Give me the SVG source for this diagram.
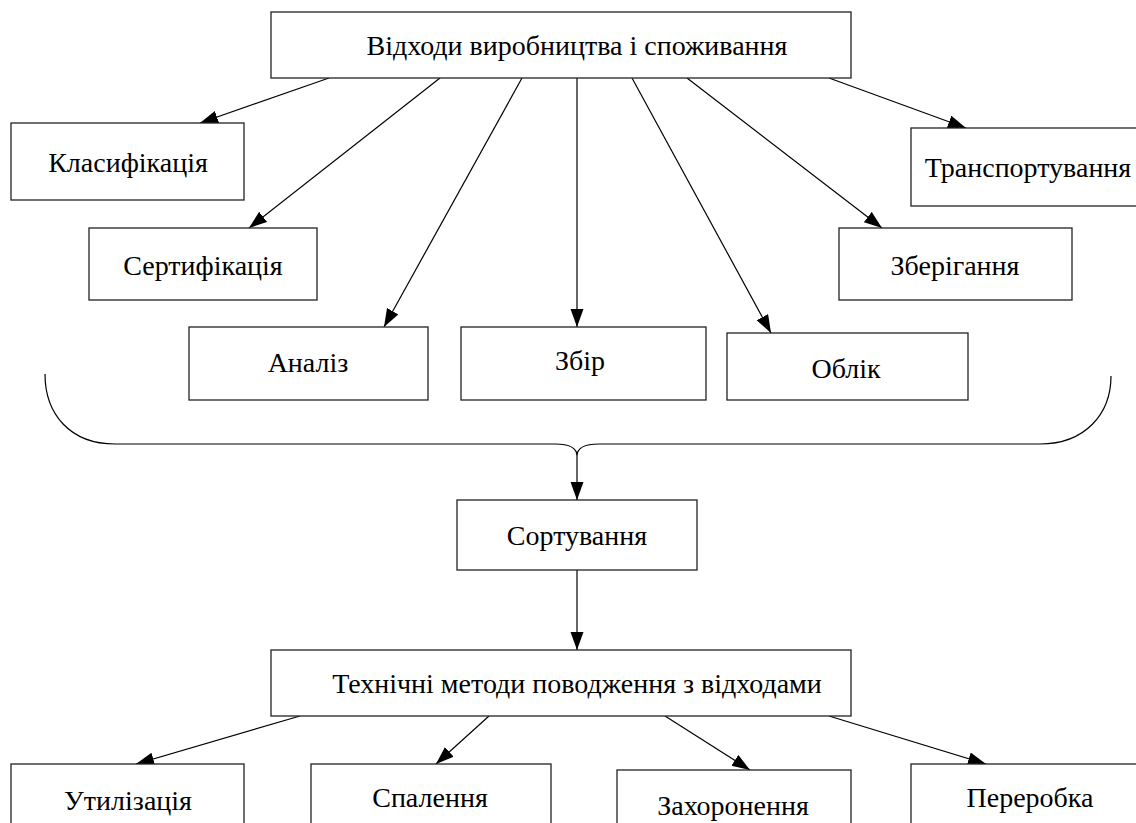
<svg xmlns="http://www.w3.org/2000/svg" width="1136" height="823" viewBox="0 0 1136 823">
<style>
.box{fill:#fff;stroke:#222;stroke-width:1.3}
.lbl{font-family:"Liberation Serif","Times New Roman",serif;font-size:28px;font-weight:normal;fill:#000;text-anchor:middle;dominant-baseline:central}
.ln{stroke:#000;stroke-width:1.2;fill:none}
</style>
<defs>
<marker id="ah" markerUnits="userSpaceOnUse" markerWidth="20" markerHeight="14" refX="18" refY="6.5" orient="auto">
<path d="M0,0 L18,6.5 L0,13 z" fill="#000"/>
</marker>
</defs>
<rect width="1136" height="823" fill="#fff"/>
<g id="connectors">
<line class="ln" x1="329" y1="78" x2="200" y2="123" marker-end="url(#ah)"/>
<line class="ln" x1="440" y1="78" x2="249" y2="228" marker-end="url(#ah)"/>
<line class="ln" x1="522" y1="78" x2="384" y2="327" marker-end="url(#ah)"/>
<line class="ln" x1="577" y1="78" x2="577" y2="327" marker-end="url(#ah)"/>
<line class="ln" x1="632" y1="78" x2="771" y2="333" marker-end="url(#ah)"/>
<line class="ln" x1="687" y1="78" x2="882" y2="228" marker-end="url(#ah)"/>
<line class="ln" x1="829" y1="78" x2="966" y2="128" marker-end="url(#ah)"/>
<path class="ln" d="M45,374 C45,414 70,444 115,444 L555,444 Q577,444 577,456 Q577,444 599,444 L1040,444 C1085,444 1111,414 1111,376"/>
<line class="ln" x1="577" y1="456" x2="577" y2="500" marker-end="url(#ah)"/>
<line class="ln" x1="577" y1="570" x2="577" y2="650" marker-end="url(#ah)"/>
<line class="ln" x1="300" y1="716" x2="136" y2="764" marker-end="url(#ah)"/>
<line class="ln" x1="489" y1="716" x2="436" y2="764" marker-end="url(#ah)"/>
<line class="ln" x1="665" y1="716" x2="750" y2="770" marker-end="url(#ah)"/>
<line class="ln" x1="829" y1="716" x2="986" y2="764" marker-end="url(#ah)"/>
</g>
<g id="n-top"><rect class="box" x="271" y="12" width="580" height="66"/><text class="lbl" x="577" y="45">Відходи виробництва і споживання</text></g>
<g id="n-klas"><rect class="box" x="11" y="123" width="233" height="77"/><text class="lbl" x="128" y="162">Класифікація</text></g>
<g id="n-sert"><rect class="box" x="89" y="228" width="228" height="72"/><text class="lbl" x="203" y="265">Сертифікація</text></g>
<g id="n-anal"><rect class="box" x="189" y="327" width="239" height="73"/><text class="lbl" x="308" y="362">Аналіз</text></g>
<g id="n-zbir"><rect class="box" x="461" y="327" width="245" height="73"/><text class="lbl" x="580" y="360">Збір</text></g>
<g id="n-oblik"><rect class="box" x="727" y="333" width="241" height="67"/><text class="lbl" x="846" y="368">Облік</text></g>
<g id="n-zber"><rect class="box" x="839" y="228" width="233" height="72"/><text class="lbl" x="955" y="265">Зберігання</text></g>
<g id="n-trans"><rect class="box" x="911" y="128" width="230" height="78"/><text class="lbl" x="1028" y="167">Транспортування</text></g>
<g id="n-sort"><rect class="box" x="457" y="500" width="240" height="70"/><text class="lbl" x="577" y="535">Сортування</text></g>
<g id="n-tech"><rect class="box" x="271" y="650" width="580" height="66"/><text class="lbl" x="577" y="683">Технічні методи поводження з відходами</text></g>
<g id="n-util"><rect class="box" x="11" y="764" width="233" height="70"/><text class="lbl" x="128" y="800">Утилізація</text></g>
<g id="n-spal"><rect class="box" x="311" y="764" width="240" height="70"/><text class="lbl" x="430" y="797">Спалення</text></g>
<g id="n-zakh"><rect class="box" x="617" y="770" width="234" height="70"/><text class="lbl" x="733" y="805">Захоронення</text></g>
<g id="n-perer"><rect class="box" x="911" y="764" width="230" height="70"/><text class="lbl" x="1030" y="797">Переробка</text></g>
</svg>
